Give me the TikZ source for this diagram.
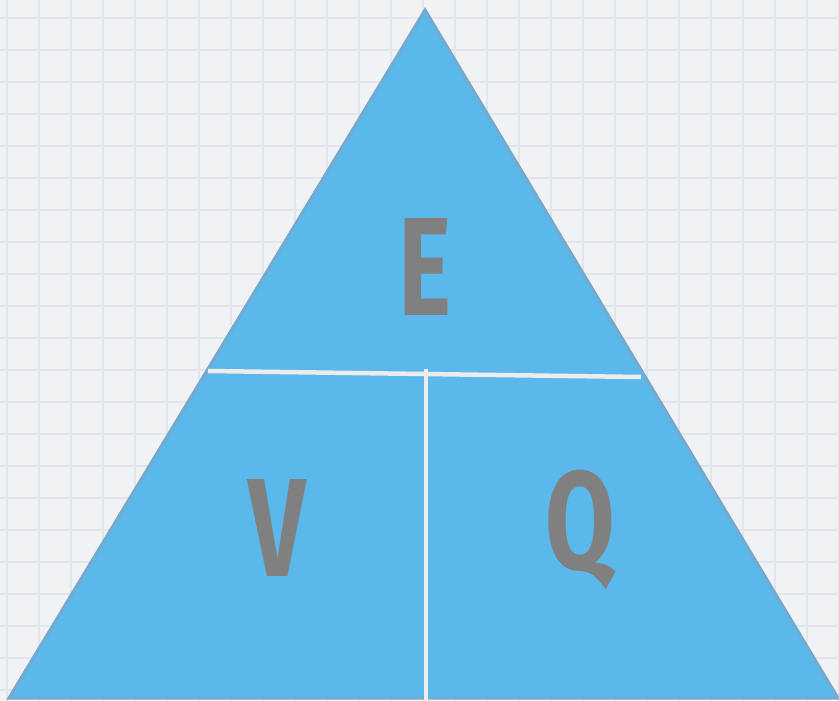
\documentclass[tikz,border=0pt]{standalone}
\usepackage{fontspec}
\setmainfont{Fira Sans}
\definecolor{bgc}{HTML}{F1F2F3}
\definecolor{gridc}{HTML}{E0E6EB}
\definecolor{tri}{HTML}{5BB8EA}
\definecolor{triedge}{HTML}{74AAD0}
\definecolor{sep}{HTML}{ECECEC}
\definecolor{letter}{HTML}{808080}
\tikzset{
  letterstyle/.style={text=letter, font=\bfseries\fontsize{140}{140}\selectfont, xscale=0.72, inner sep=0pt},
  sepline/.style={draw=sep, line width=4.5pt}
}
\begin{document}
\begin{tikzpicture}[x=1pt,y=-1pt]
\useasboundingbox (0,0) rectangle (839,701);
\fill[bgc] (0,0) rectangle (839,701);
\foreach \i in {0,...,26} {
  \draw[gridc, line width=1.3pt] ({7+32*\i},0) -- ({7+32*\i},701);
}
\foreach \j in {0,...,21} {
  \draw[gridc, line width=1.3pt] (0,{18+32*\j}) -- (839,{18+32*\j});
}
\coordinate (apex) at (425,10);
\coordinate (bl) at (9,698);
\coordinate (br) at (838,698);
\filldraw[fill=tri, draw=triedge, line width=3pt, line join=miter] (apex) -- (br) -- (bl) -- cycle;
\coordinate (hl) at (208,371);
\coordinate (hr) at (641,377);
\coordinate (vt) at (426,369);
\coordinate (vb) at (426,701);
\draw[sepline] (hl) -- (hr);
\draw[sepline] (vt) -- (vb);
\node[letterstyle] (E) at (425,267) {E};
\node[letterstyle] (V) at (277,528) {V};
\node[letterstyle] (Q) at (580,530) {Q};
\end{tikzpicture}
\end{document}
